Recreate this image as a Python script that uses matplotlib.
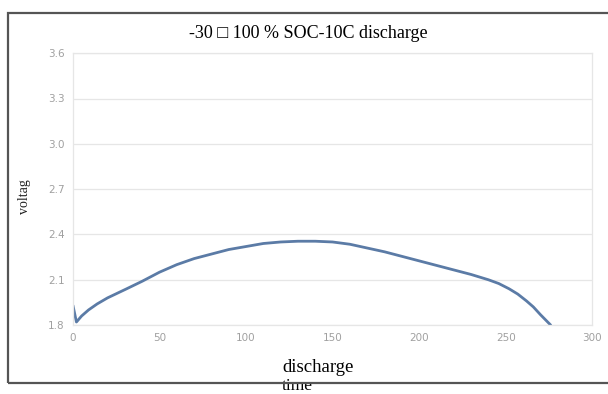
import numpy as np
import matplotlib.pyplot as plt
from matplotlib.patches import Rectangle

# discharge time and voltage
time = [0, 2, 5, 9, 14, 20, 31, 40, 50, 60, 70, 80, 90, 100, 110, 120, 130,
        140, 150, 160, 170, 180, 190, 200, 210, 220, 230, 240, 246, 252,
        257, 262, 266, 270, 273, 276]
voltage = [1.93, 1.82, 1.86, 1.90, 1.94, 1.98, 2.04, 2.09, 2.15, 2.20, 2.24,
           2.27, 2.30, 2.32, 2.34, 2.35, 2.355, 2.355, 2.35, 2.335, 2.31,
           2.285, 2.255, 2.225, 2.195, 2.165, 2.135, 2.10, 2.075, 2.04,
           2.005, 1.96, 1.92, 1.87, 1.835, 1.80]

x_ticks = [0, 50, 100, 150, 200, 250, 300]
y_ticks = [1.8, 2.1, 2.4, 2.7, 3.0, 3.3, 3.6]

title = "-30 \u25a1 100 % SOC-10C discharge"
serif = ['Liberation Serif', 'DejaVu Sans']

fig = plt.figure(figsize=(6.08, 3.94), dpi=100)
fig.patch.set_facecolor('white')

ax = fig.add_axes([0.120, 0.175, 0.854, 0.690])
ax.plot(time, voltage, color='#5b7ba6', linewidth=2.0, solid_capstyle='round',
        solid_joinstyle='round')

ax.set_xlim(0, 300)
ax.set_ylim(1.8, 3.6)
ax.set_xticks(x_ticks)
ax.set_yticks(y_ticks)
ax.set_yticklabels([f"{v:.1f}" for v in y_ticks])
ax.tick_params(length=0, labelsize=7.5, labelcolor='#a0a0a0', pad=6)
ax.grid(axis='y', color='#e6e6e6', linewidth=0.9)
ax.set_axisbelow(True)
for s in ax.spines.values():
    s.set_color('#e6e6e6')
    s.set_linewidth(0.9)

fig.text(0.507, 0.916, title, ha='center', va='center', fontsize=13, family=serif)
fig.text(0.464, 0.066, "discharge", ha='left', va='center', fontsize=13.5,
         family=serif)
fig.text(0.464, 0.010, "time", ha='left', va='baseline', fontsize=12.5,
         family=serif)
fig.text(0.041, 0.50, "voltag", ha='center', va='center', rotation=90,
         fontsize=10, family=serif, color='#222222')

# outer chart frame (right side runs off the picture), drawn over the labels
fig.patches.append(Rectangle((0.013, 0.028), 1.1, 0.939, transform=fig.transFigure,
                             fill=False, edgecolor='#555555', linewidth=1.6,
                             zorder=10))

fig.savefig("out.png", dpi=100)
